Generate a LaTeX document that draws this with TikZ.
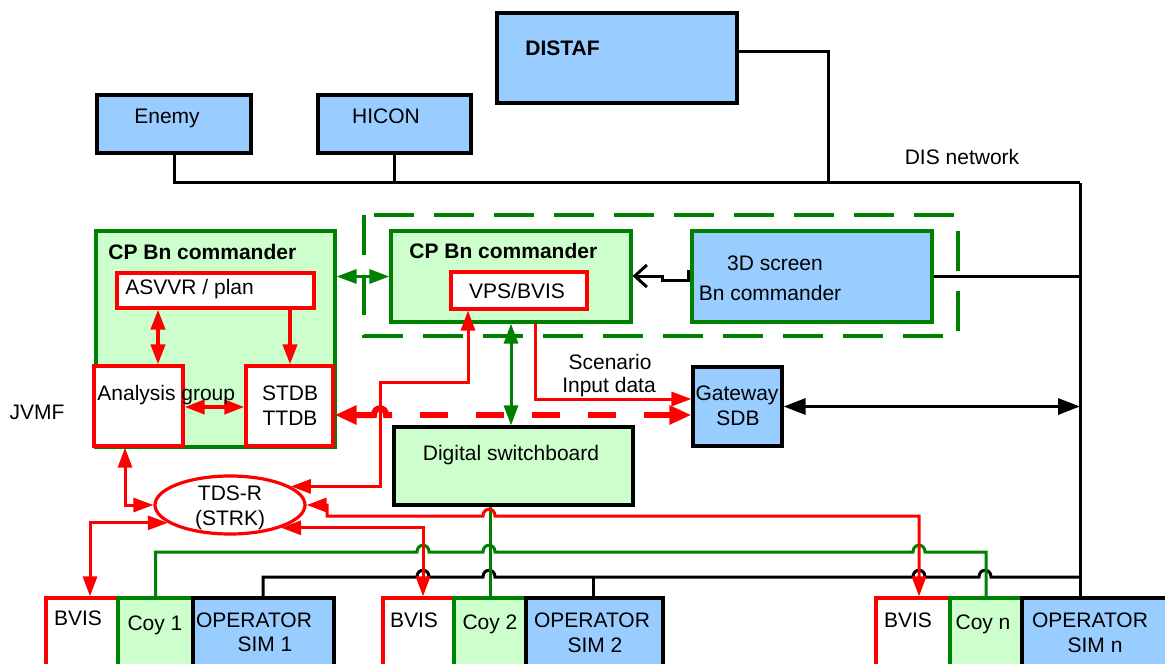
\documentclass[tikz,border=0pt]{standalone}
\usepackage{fontspec}
\setmainfont{Liberation Sans}
\usetikzlibrary{arrows.meta,fit,shapes.geometric}
\definecolor{bluef}{HTML}{99CCFF}
\definecolor{greenf}{HTML}{CCFFCC}
\definecolor{gstr}{HTML}{008000}
\definecolor{redc}{HTML}{FF0000}
\newcommand{\hp}[2]{-- ({#1-6},#2) .. controls ({#1-6},{#2-9}) and ({#1+6},{#2-9}) .. ({#1+6},#2)}
\tikzset{
 lbl/.style={inner sep=0pt, text height=7.5pt, text depth=0pt, font=\fontsize{10.5}{12}\selectfont},
 blbl/.style={inner sep=0pt, text height=7.5pt, text depth=0pt, font=\fontsize{10.5}{12}\selectfont\bfseries},
 bx/.style={inner sep=0pt, line width=1.6pt},
 bluebox/.style={bx, draw=black, fill=bluef},
 greenbox/.style={bx, draw=gstr, fill=greenf},
 redbox/.style={bx, draw=redc, fill=white},
 swbox/.style={bx, draw=black, fill=greenf},
 scrbox/.style={bx, draw=gstr, fill=bluef},
 bk/.style={draw=black, line width=1.5pt},
 gr/.style={draw=gstr, line width=1.5pt},
 rd/.style={draw=redc, line width=1.5pt},
 rdt/.style={draw=redc, line width=2pt},
 rdash/.style={draw=redc, line width=3pt},
 >={Triangle[length=10pt,width=7pt]}
}
\begin{document}
\begin{tikzpicture}[x=0.5pt,y=-0.5pt]
\useasboundingbox (0,0) rectangle (1165,663);
\clip (0,0) rectangle (1165,663);

% ---------- boxes ----------
\node[bluebox, fit={(97,95)(251,153)}] (enemy) {};
\node[bluebox, fit={(318,95)(471,153)}] (hicon) {};
\node[bluebox, fit={(497,13)(737,103)}] (distaf) {};

\node[greenbox, fit={(96,231)(335,447)}] (cpl) {};
\node[redbox, fit={(117,273)(314,308)}] (asv) {};
\node[redbox, fit={(94,366)(183,446)}] (ana) {};
\node[redbox, fit={(246,366)(333,446)}] (stdb) {};

\draw[gstr, line width=1.6pt, dash pattern=on 20pt off 10pt] (364,215) rectangle (958,336);
\node[greenbox, fit={(391,231)(631,322)}] (cpm) {};
\node[redbox, fit={(451,272)(587,309)}] (vps) {};
\node[scrbox, fit={(692,231)(932,322)}] (scr) {};

\node[swbox, fit={(394,427)(633,505)}] (sw) {};
\node[bluebox, fit={(693,367)(782,446)}] (gw) {};

\node[ellipse, draw=redc, line width=1.6pt, fill=white, minimum width=75pt, minimum height=29pt, inner sep=0pt] (tds) at (230,505) {};

\node[redbox, fit={(46,598)(118,690)}] (bvis1) {};
\node[greenbox, fit={(118,598)(193,690)}] (coy1) {};
\node[bluebox, fit={(193,598)(334,690)}] (op1) {};
\node[redbox, fit={(383,598)(454,690)}] (bvis2) {};
\node[greenbox, fit={(454,598)(526,690)}] (coy2) {};
\node[bluebox, fit={(526,598)(663,690)}] (op2) {};
\node[redbox, fit={(876,598)(950,690)}] (bvisn) {};
\node[greenbox, fit={(950,598)(1022,690)}] (coyn) {};
\node[bluebox, fit={(1022,598)(1190,690)}] (opn) {};

% ---------- black network ----------
\coordinate (busR) at (1080,183);
\draw[bk] (enemy.south) |- (busR);
\draw[bk] (hicon.south) -- (hicon.south |- busR);
\draw[bk] (distaf.east |- 0,52) -| (828,183);
\draw[bk] (busR) -- (opn.north -| busR);
\draw[bk] (scr.east) -- (scr.east -| busR);
\draw[bk, arrows={Triangle[length=11pt,width=8pt]-Triangle[length=11pt,width=8pt]}] (gw.east) -- (gw.east -| busR);
\draw[bk] (op1.north -| 263,0) -- (263,577) \hp{423}{577} \hp{489}{577} \hp{919}{577} \hp{985}{577} -- (1080,577);
\draw[bk] (593,577) -- (op2.north -| 593,0);
\draw[bk, -{Straight Barb[length=6pt,width=11pt]}] (scr.west |- 0,271) -- (688,271) -- (688,280) -- (662,280) -- (662,276) -- (cpm.east |- 0,276);

% ---------- green links ----------
\draw[gr] (coy1.north) -- (coy1.north |- 0,552) \hp{423}{552} \hp{489}{552} \hp{919}{552} -- (coyn.north |- 0,552) -- (coyn.north);
\draw[gr] (sw.south -| coy2.north) -- (coy2.north);

% ---------- red links ----------
\draw[rdt,<->] (asv.south -| 158,0) -- (ana.north -| 158,0);
\draw[rdt,->] (asv.south -| 290,0) -- (stdb.north -| 290,0);
\draw[rdt,<->] (ana.east |- 0,407) -- (stdb.west |- 0,407);

\coordinate (dsh) at (392,415);
\draw[rdash, arrows={Triangle[length=11pt,width=9pt]-}] (stdb.east |- dsh) \hp{380}{415} -- (dsh);
\draw[rdash, dash pattern=on 14pt off 14pt, dash phase=14pt, arrows={-Triangle[length=11pt,width=9pt]}] (dsh) -- (gw.west |- dsh);

\draw[rd,<->] (vps.south -| 468,0) -- (468,382) -- (380,382) |- (tds.17);
\draw[rd,<->] (tds.east) -- (327,505) -- (327,516) \hp{489}{516} -- (919,516) -- (bvisn.north -| 919,0);
\draw[rd,<->] (tds.-24) -| (bvis2.north -| 423,0);
\draw[rd,<->] (ana.south -| 125,0) |- (tds.west);
\draw[rd,<->] (bvis1.north -| 90,0) |- (tds.196);
\draw[rd,->] (cpm.south -| 535,0) |- (gw.west |- 0,399);

% green arrows (on top)
\draw[gr,<->] (cpl.east |- cpm.west) -- (cpm.west);
\draw[gr,<->] (cpm.south) -- (cpm.south |- sw.north);

% ---------- texts ----------
\node[blbl, anchor=west] at (525,48) {DISTAF};
\node[lbl] at (167,116) {Enemy};
\node[lbl] at (386,116) {HICON};
\node[lbl] at (962,157) {DIS network};
\node[blbl, anchor=west] at (108,252) {CP Bn commander};
\node[lbl, anchor=west] at (125,287) {ASVVR / plan};
\node[lbl, anchor=west] at (97,393) {Analysis group};
\node[lbl] at (290,393) {STDB};
\node[lbl] at (290,418) {TTDB};
\node[lbl] at (37,412) {JVMF};
\node[blbl, anchor=west] at (409,251) {CP Bn commander};
\node[lbl] at (517,291) {VPS/BVIS};
\node[lbl] at (775,263) {3D screen};
\node[lbl] at (770,293) {Bn commander};
\node[lbl] at (610,362) {Scenario};
\node[lbl] at (609,385) {Input data};
\node[lbl] at (737,393) {Gateway};
\node[lbl] at (738,418) {SDB};
\node[lbl] at (511,453) {Digital switchboard};
\node[lbl] at (230,493) {TDS-R};
\node[lbl] at (230,518) {(STRK)};

\node[lbl] at (78,618) {BVIS};
\node[lbl] at (155,623) {Coy 1};
\node[lbl] at (254,620) {OPERATOR};
\node[lbl] at (265,644) {SIM 1};
\node[lbl] at (414,620) {BVIS};
\node[lbl] at (490,622) {Coy 2};
\node[lbl] at (592,620) {OPERATOR};
\node[lbl] at (595,645) {SIM 2};
\node[lbl] at (908,620) {BVIS};
\node[lbl] at (983,622) {Coy n};
\node[lbl] at (1090,620) {OPERATOR};
\node[lbl] at (1095,645) {SIM n};
\end{tikzpicture}
\end{document}
